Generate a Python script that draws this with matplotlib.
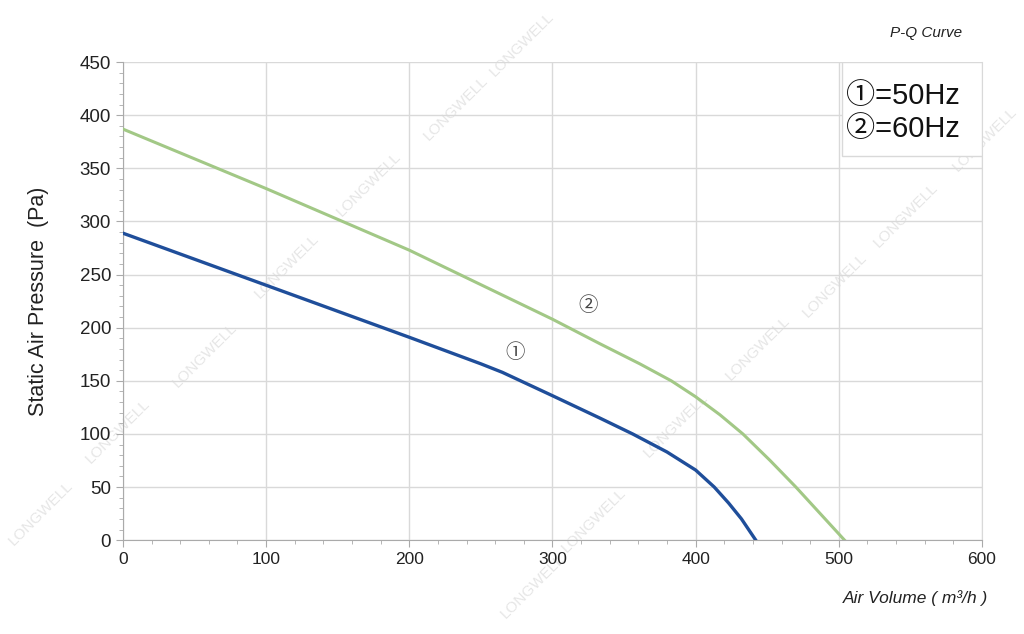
import matplotlib.pyplot as plt
from matplotlib.ticker import MultipleLocator

plt.rcParams['font.family'] = ['Liberation Sans', 'Noto Sans CJK SC', 'DejaVu Sans']

# 50Hz curve
q_50 = [0, 100, 200, 250, 265, 300, 333, 356, 380, 400, 413, 423, 432, 442]
p_50 = [289, 240, 191, 166, 158, 136, 115, 100, 83, 66, 50, 35, 20, 0]
# 60Hz curve
q_60 = [0, 100, 200, 300, 333, 361, 383, 400, 417, 433, 452, 470, 487, 504]
p_60 = [387, 331, 273, 208, 185, 166, 150, 135, 118, 100, 75, 50, 25, 0]

legend_lines = ['\u2460=50Hz', '\u2461=60Hz']
watermark = 'LONGWELL'
wm_pos = [(0.04, 0.19), (0.115, 0.32), (0.20, 0.44), (0.28, 0.58), (0.36, 0.71),
          (0.445, 0.83), (0.51, 0.93), (0.52, 0.075), (0.58, 0.18), (0.66, 0.33),
          (0.74, 0.45), (0.815, 0.55), (0.885, 0.66), (0.962, 0.78)]

fig = plt.figure(figsize=(10.24, 6.34), dpi=100)
ax = fig.add_axes([0.120, 0.148, 0.839, 0.754])
ax.patch.set_alpha(0)

ax.plot(q_50, p_50, color='#1f4e9a', lw=2.4, zorder=3)
ax.plot(q_60, p_60, color='#a2c886', lw=2.2, zorder=3)

ax.set_xlim(0, 600)
ax.set_ylim(0, 450)
ax.xaxis.set_major_locator(MultipleLocator(100))
ax.xaxis.set_minor_locator(MultipleLocator(20))
ax.yaxis.set_major_locator(MultipleLocator(50))
ax.yaxis.set_minor_locator(MultipleLocator(10))
ax.grid(True, which='major', color='#d9d9d9', lw=1)
ax.tick_params(axis='both', which='major', length=5, color='#aaaaaa', labelcolor='#222222')
ax.tick_params(axis='x', which='major', labelsize=12.5)
ax.tick_params(axis='y', which='major', labelsize=13.5)
ax.tick_params(axis='both', which='minor', length=3, color='#aaaaaa')
for s in ['left', 'bottom']:
    ax.spines[s].set_color('#aaaaaa')
ax.spines['right'].set_color('#d9d9d9')
ax.spines['top'].set_visible(False)

ax.set_ylabel('Static Air Pressure  (Pa)', fontsize=15.5, color='#222222', labelpad=22)

ax.text(274, 177, '\u2460', fontsize=14, color='#444444', ha='center', va='center')
ax.text(325, 221, '\u2461', fontsize=14, color='#444444', ha='center', va='center')

# legend box
ax.add_patch(plt.Rectangle((502, 362), 98, 88, fill=True, facecolor='white',
                           edgecolor='#d9d9d9', lw=1, zorder=4))
ax.text(505, 418, legend_lines[0], fontsize=21, color='#111111', va='center', zorder=5)
ax.text(505, 387, legend_lines[1], fontsize=21, color='#111111', va='center', zorder=5)

fig.text(0.965, 0.057, 'Air Volume ( m\u00b3/h )', fontsize=12.5, style='italic',
         ha='right', va='center', color='#222222')
fig.text(0.94, 0.948, 'P-Q Curve', fontsize=11, style='italic',
         ha='right', va='center', color='#222222')

for x, y in wm_pos:
    fig.text(x, y, watermark, fontsize=11, rotation=45, color='#e6e6e6',
             ha='center', va='center', zorder=-1)

fig.savefig('out.png', dpi=100)
